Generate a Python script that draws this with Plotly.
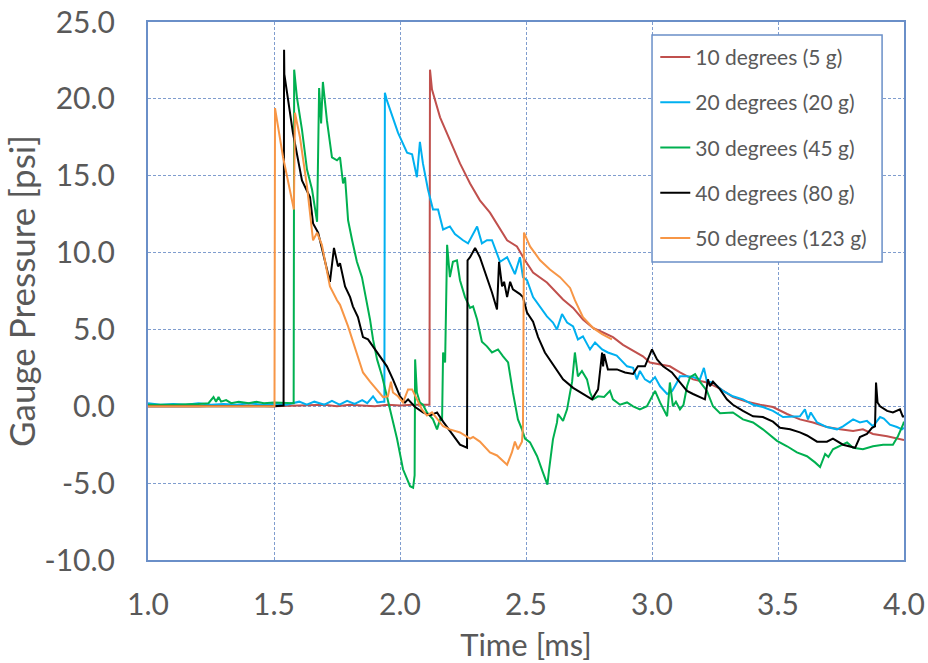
import plotly.graph_objects as go

# ---- data (time in ms, gauge pressure in psi) ----
names = ["10 degrees (5 g)", "20 degrees (20 g)", "30 degrees (45 g)",
         "40 degrees (80 g)", "50 degrees (123 g)"]
colors = ["#c0504d", "#00b0f0", "#00b050", "#000000", "#f79646"]

t10 = [1.0, 1.1, 1.2, 1.3, 1.4, 1.5, 1.6, 1.7, 1.75, 1.8, 1.85, 1.9, 1.95, 2.0, 2.05, 2.1, 2.117,
       2.119, 2.127, 2.159, 2.198, 2.238, 2.278, 2.317, 2.357, 2.397, 2.425, 2.464, 2.496, 2.528,
       2.583, 2.647, 2.687, 2.726, 2.766, 2.806, 2.845, 2.885, 2.925, 2.964, 2.992, 3.032, 3.071,
       3.111, 3.163, 3.218, 3.27, 3.321, 3.377, 3.429, 3.48, 3.536, 3.587, 3.639, 3.694, 3.746,
       3.798, 3.837, 3.877, 3.933, 3.984, 4.0]
p10 = [0.0, 0.0, 0.0, 0.05, 0.05, 0.0, 0.05, 0.1, 0.0, 0.1, 0.05, 0.0, 0.1, 0.05, 0.1, 0.1, 0.1,
       21.9, 20.6, 18.8, 17.3, 15.8, 14.5, 13.4, 12.6, 11.5, 10.8, 10.4, 9.5, 8.7,
       8.05, 6.95, 6.4, 5.65, 5.1, 4.8, 4.5, 4.0, 3.6, 3.25, 2.85, 2.7, 2.6,
       2.2, 1.75, 1.55, 1.15, 0.6, 0.3, 0.1, -0.05, -0.5, -0.85, -1.05, -1.35, -1.5,
       -1.6, -1.5, -1.8, -1.95, -2.15, -2.2]

t20 = [1.0, 1.05, 1.1, 1.15, 1.2, 1.25, 1.3, 1.35, 1.4, 1.45, 1.5, 1.55, 1.6, 1.63, 1.66, 1.7,
       1.73, 1.76, 1.79, 1.82, 1.85, 1.87, 1.893, 1.91, 1.93, 1.938,
       1.940, 1.948, 1.992, 2.028, 2.048, 2.067, 2.079, 2.091, 2.111, 2.131, 2.151, 2.171, 2.198,
       2.218, 2.25, 2.27, 2.306, 2.325, 2.345, 2.365, 2.397, 2.425, 2.456, 2.476, 2.488, 2.504,
       2.528, 2.556, 2.583, 2.607, 2.623, 2.643, 2.663, 2.687, 2.706, 2.726, 2.754, 2.774, 2.802,
       2.825, 2.86, 2.901, 2.925, 2.940, 2.952, 2.972, 2.992, 3.012, 3.032, 3.06, 3.08, 3.099,
       3.111, 3.139, 3.163, 3.19, 3.206, 3.218, 3.242, 3.282, 3.321, 3.361, 3.401, 3.44, 3.48,
       3.52, 3.56, 3.587, 3.607, 3.619, 3.63, 3.655, 3.694, 3.734, 3.758, 3.798, 3.825, 3.853,
       3.877, 3.905, 3.92, 3.944, 3.972, 3.992, 4.0]
p20 = [0.2, 0.1, 0.15, 0.1, 0.2, 0.1, 0.15, 0.1, 0.2, 0.1, 0.15, 0.1, 0.3, 0.1, 0.3, 0.1,
       0.35, 0.1, 0.35, 0.15, 0.4, 0.2, 0.65, 0.25, 0.3, 0.3,
       20.4, 19.9, 17.8, 16.5, 16.4, 14.9, 17.2, 15.8, 14.1, 12.8, 12.8, 11.5, 11.7,
       11.2, 10.8, 10.6, 11.7, 10.6, 10.8, 10.8, 9.4, 9.7, 8.6, 9.7, 8.4, 8.2,
       7.1, 6.5, 5.85, 5.45, 5.0, 6.0, 5.45, 5.2, 4.35, 4.55, 3.7, 4.15, 3.7,
       3.5, 3.3, 2.6, 2.5, 1.75, 2.3, 1.75, 1.55, 1.9, 1.3, 0.8, 1.0, 1.55,
       1.95, 1.95, 1.9, 1.75, 2.5, 1.6, 1.55, 1.0, 0.65, 0.45, 0.1, -0.05, -0.3,
       -0.7, -0.65, -0.65, -0.2, -0.85, -0.4, -1.05, -1.35, -1.5, -1.3, -0.85, -1.05, -0.95,
       -1.3, -0.7, -0.8, -1.2, -1.35, -1.5, -1.4]

t30 = [1.0, 1.1, 1.2, 1.24, 1.26, 1.27, 1.28, 1.29, 1.31, 1.33, 1.36, 1.4, 1.43, 1.46, 1.5,
       1.55, 1.578,
       1.580, 1.591, 1.611, 1.631, 1.651, 1.671, 1.679, 1.687, 1.694, 1.710, 1.730, 1.750,
       1.762, 1.774, 1.782, 1.794, 1.810, 1.829, 1.849, 1.869, 1.881, 1.893, 1.909, 1.929,
       1.948, 1.968, 1.988, 2.012, 2.040, 2.052, 2.058, 2.060, 2.067, 2.079, 2.091, 2.107,
       2.119, 2.131, 2.147, 2.159, 2.167, 2.171, 2.179, 2.187, 2.198, 2.204, 2.210, 2.226,
       2.238, 2.258, 2.278, 2.290, 2.306, 2.325, 2.345, 2.365, 2.389, 2.409, 2.429, 2.448,
       2.468, 2.484, 2.496, 2.516, 2.544, 2.567, 2.585, 2.591, 2.597, 2.607, 2.623, 2.627,
       2.647, 2.663, 2.675, 2.683, 2.694, 2.706, 2.722, 2.742, 2.754, 2.766, 2.786, 2.81,
       2.833, 2.845, 2.873, 2.901, 2.925, 2.952, 2.980, 3.012, 3.032, 3.06, 3.071, 3.083,
       3.095, 3.111, 3.125, 3.139, 3.151, 3.171, 3.190, 3.218, 3.242, 3.27, 3.321, 3.361,
       3.401, 3.44, 3.496, 3.536, 3.575, 3.615, 3.647, 3.667, 3.687, 3.70, 3.718, 3.746,
       3.774, 3.798, 3.837, 3.877, 3.917, 3.956, 3.976, 3.996, 4.0]
p30 = [0.1, 0.1, 0.15, 0.2, 0.6, 0.3, 0.6, 0.3, 0.4, 0.2, 0.3, 0.2, 0.3, 0.2, 0.25,
       0.2, 0.2,
       21.9, 20.1, 18.0, 15.4, 14.1, 12.0, 20.7, 18.4, 21.1, 18.6, 16.2, 16.0,
       16.2, 14.5, 14.9, 12.1, 10.8, 9.4, 8.4, 6.75, 5.65, 4.35, 3.05, 1.95,
       0.65, -0.65, -2.1, -4.1, -5.2, -5.3, -4.5, 3.05, 0.9, 0.25, 0.1, -0.4,
       -0.6, -0.85, -1.5, -0.85, -0.9, 3.5, 2.85, 10.5, 8.4, 8.9, 9.4, 9.5,
       8.2, 7.1, 6.4, 6.5, 5.65, 4.2, 3.9, 3.5, 3.7, 3.25, 2.85, 0.9,
       -0.85, -1.5, -2.1, -2.35, -3.25, -4.3, -5.1, -4.2, -3.45, -2.15, -1.05, -0.5,
       -0.95, -0.2, 0.9, 1.6, 3.5, 1.95, 2.3, 1.75, 0.9, 0.45, 0.65, 0.6,
       1.0, 0.45, 0.1, 0.25, 0.0, -0.2, 0.0, 1.0, 0.25, -0.65, 1.55, 0.0,
       0.3, -0.2, 0.1, 1.3, 1.9, 2.1, 1.6, 1.0, 0.0, -0.45, -0.4, -0.85,
       -1.05, -1.5, -2.25, -2.6, -3.0, -3.25, -3.65, -3.95, -3.1, -3.3, -2.8, -2.6,
       -2.35, -2.7, -2.8, -2.6, -2.5, -2.5, -1.95, -1.2, -1.0]

t40 = [1.0, 1.5, 1.538,
       1.540, 1.541, 1.575, 1.611, 1.643, 1.655, 1.675, 1.70, 1.722, 1.738, 1.754, 1.762,
       1.782, 1.802, 1.813, 1.833, 1.853, 1.873, 1.893, 1.921, 1.948, 1.972, 2.0, 2.020,
       2.032, 2.060, 2.091, 2.119, 2.147, 2.171, 2.21, 2.238, 2.266, 2.268, 2.278, 2.298,
       2.317, 2.345, 2.365, 2.385, 2.393, 2.405, 2.413, 2.425, 2.437, 2.448, 2.476, 2.488,
       2.504, 2.528, 2.548, 2.575, 2.607, 2.647, 2.687, 2.726, 2.762, 2.786, 2.802, 2.806,
       2.810, 2.825, 2.861, 2.893, 2.925, 2.944, 2.972, 3.0, 3.020, 3.044, 3.079, 3.111,
       3.139, 3.163, 3.19, 3.210, 3.222, 3.23, 3.242, 3.27, 3.297, 3.321, 3.361, 3.401,
       3.44, 3.48, 3.508, 3.548, 3.587, 3.615, 3.655, 3.694, 3.718, 3.758, 3.806, 3.825,
       3.853, 3.873, 3.885, 3.889, 3.895, 3.905, 3.933, 3.956, 3.984, 3.996, 4.0]
p40 = [0.0, 0.0, 0.05,
       23.2, 21.6, 17.8, 14.7, 13.6, 11.9, 11.3, 9.5, 8.1, 10.3, 9.1, 9.3,
       7.8, 7.1, 6.5, 5.8, 4.5, 4.35, 3.9, 3.2, 2.6, 1.75, 0.65, 0.25,
       0.45, -0.05, -0.4, -0.6, -0.4, -1.0, -1.9, -2.5, -2.7, 9.5, 9.7, 10.3,
       9.7, 8.4, 7.4, 6.3, 9.4, 7.8, 8.1, 7.1, 8.1, 7.6, 7.3, 7.1,
       6.1, 5.5, 4.5, 3.5, 2.7, 1.75, 1.2, 0.8, 0.45, 1.1, 3.5, 2.6,
       3.4, 2.4, 2.4, 2.2, 2.1, 2.6, 2.6, 3.7, 3.05, 2.6, 2.2, 1.55,
       1.0, 0.8, 0.6, 0.45, 1.75, 1.3, 1.6, 1.1, 0.45, 0.1, -0.3, -0.65,
       -0.7, -1.0, -1.4, -1.5, -1.7, -1.9, -2.3, -2.3, -2.1, -2.5, -2.7, -2.0,
       -1.8, -1.4, -1.3, 1.55, 0.25, 0.0, -0.3, -0.4, -0.2, -0.7, -0.6]

t50 = [1.0, 1.502,
       1.504, 1.536, 1.579, 1.583, 1.603, 1.631, 1.655, 1.671, 1.690, 1.722, 1.75, 1.762,
       1.794, 1.829, 1.853, 1.881, 1.909, 1.933, 1.952, 1.964, 1.972, 1.992, 2.012, 2.032,
       2.048, 2.067, 2.087, 2.107, 2.127, 2.147, 2.171, 2.198, 2.238, 2.278, 2.29, 2.317,
       2.357, 2.385, 2.425, 2.444, 2.456, 2.468, 2.484, 2.488,
       2.492, 2.516, 2.556, 2.595, 2.635, 2.675, 2.694, 2.726, 2.766, 2.802, 2.841]
p50 = [0.0, 0.0,
       19.4, 16.2, 12.8, 19.1, 17.5, 14.3, 10.8, 11.3, 10.5, 7.8, 6.9, 6.6,
       5.2, 3.5, 2.2, 1.6, 1.1, 0.6, 0.65, 1.6, 0.9, 0.65, 0.25, 1.1,
       1.1, 0.45, -0.2, -0.6, -0.4, -0.8, -1.3, -1.5, -1.7, -2.1, -2.0, -2.3,
       -3.0, -3.2, -3.8, -3.0, -2.3, -2.8, -2.3, -1.3,
       11.3, 10.4, 9.5, 8.9, 8.4, 7.7, 6.9, 5.8, 5.1, 4.7, 4.35]

times = [t10, t20, t30, t40, t50]
pressures = [p10, p20, p30, p40, p50]

x_ticks = [1.0, 1.5, 2.0, 2.5, 3.0, 3.5, 4.0]
y_ticks = [-10, -5, 0, 5, 10, 15, 20, 25]

fig = go.Figure()
for i, (t, p) in enumerate(zip(times, pressures)):
    fig.add_trace(go.Scatter(
        x=t, y=p, mode="lines", name=names[i], legendgroup=str(i),
        line=dict(color=colors[i], width=2),
    ))

font_family = "Lato, 'Open Sans', sans-serif"
text_color = "#595959"
grid_color = "#7f9dce"
border_color = "#6a8fc8"

fig.update_layout(
    width=928, height=663,
    paper_bgcolor="white", plot_bgcolor="white",
    margin=dict(l=148, r=24, t=22, b=103),
    font=dict(family=font_family, color=text_color),
    showlegend=True,
    legend=dict(
        x=0.671, y=0.9726, xanchor="left", yanchor="top",
        bgcolor="rgba(0,0,0,0)", borderwidth=0,
        font=dict(size=21, color=text_color, family=font_family),
        tracegroupgap=15, itemwidth=30,
    ),
    shapes=[dict(
        type="rect", xref="paper", yref="paper",
        x0=0.6667, x1=0.971, y0=0.554, y1=0.976,
        fillcolor="white", line=dict(color=border_color, width=1.5), layer="above",
    )],
)
fig.update_xaxes(
    range=[1.0, 4.0], tickvals=x_ticks, ticktext=[f"{v:.1f}" for v in x_ticks],
    showgrid=True, gridcolor=grid_color, griddash="3px,2px", gridwidth=1,
    showline=True, linecolor=border_color, linewidth=2, mirror=True,
    ticks="", ticklabelstandoff=17, zeroline=False, automargin=False,
    ticklabeloverflow="allow",
    tickfont=dict(size=30, color=text_color),
    title=dict(text="Time [ms]", font=dict(size=31, color=text_color), standoff=20),
)
fig.update_yaxes(
    range=[-10, 25], tickvals=y_ticks, ticktext=[f"{v:.1f}" for v in y_ticks],
    showgrid=True, gridcolor=grid_color, griddash="3px,2px", gridwidth=1,
    showline=True, linecolor=border_color, linewidth=2, mirror=True,
    ticks="", ticklabelstandoff=25, zeroline=False, automargin=False,
    ticklabeloverflow="allow",
    tickfont=dict(size=30, color=text_color),
    title=dict(text="Gauge Pressure [psi]", font=dict(size=35, color=text_color), standoff=16),
)

# remove the browser's default 8px body margin so the figure fills the window
fig.write_html("out.html", config={"displayModeBar": False},
               post_script="document.body.style.margin='0px';")
